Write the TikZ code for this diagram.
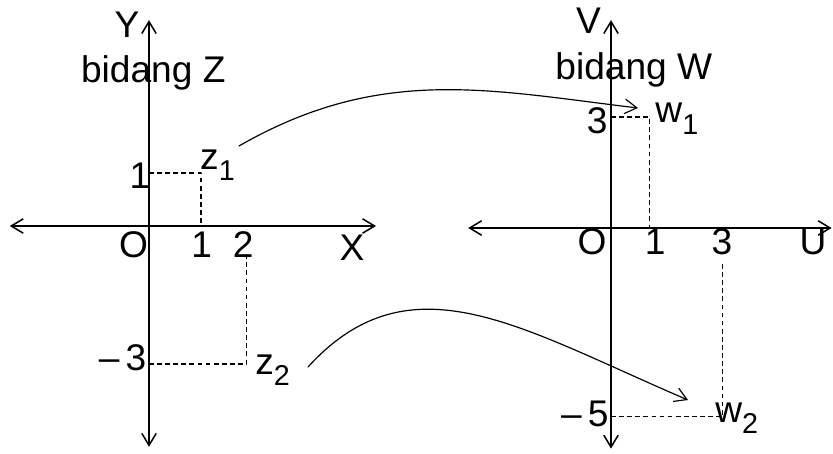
\documentclass[tikz,border=0pt]{standalone}
\usepackage{fontspec}
\setmainfont{Liberation Sans}
\usetikzlibrary{arrows.meta}
\newcommand{\subidx}[1]{\raisebox{-0.3em}{\fontsize{17}{20}\selectfont #1}}
\begin{document}
\begin{tikzpicture}[line join=round, line cap=round, >={Straight Barb[length=2.5mm,width=3mm]}]
\tikzset{every node/.style={inner sep=0pt, anchor=base, font=\fontsize{22}{26}\selectfont},
  axis/.style={<->, line width=0.9pt},
  guide/.style={dash pattern=on 2.8pt off 2pt, line width=0.7pt, line cap=butt},
  maparrow/.style={->, line width=0.7pt}}
\useasboundingbox (0,0) rectangle (17.354,9.4375);
% bidang Z
\begin{scope}[shift={(3.104,4.729)}]
\def\xmin{-2.9}\def\xmax{4.73}\def\ymin{-4.6}\def\ymax{4.29}
\draw[axis] (\xmin,0)--(\xmax,0);
\draw[axis] (0,\ymin)--(0,\ymax);
\node (Y) at (-0.46,3.92) {Y};
\node (X) at (4.23,-0.71) {X};
\node (bZ) at (0.09,3.0) {bidang Z};
\node (O1) at (-0.32,-0.646) {O};
\node (x1) at (1.10,-0.646) {1};
\node (x2) at (1.96,-0.646) {2};
\node (y1) at (-0.19,0.79) {1};
\node (ym3) at (-0.55,-3.0) {\textendash\,3};
\draw[guide] (0,1.104)--(1.083,1.104)--(1.083,0);
\draw[guide] (0,-2.875)--(2.03,-2.875)--(2.03,-0.58);
\node[anchor=base west] (z1) at (1.06,1.17) {z\subidx{1}};
\node[anchor=base west] (z2) at (2.21,-3.10) {z\subidx{2}};
\end{scope}
% bidang W
\begin{scope}[shift={(12.729,4.6875)}, scale=0.779]
\def\xmin{-3.82}\def\xmax{5.9}\def\ymin{-5.9}\def\ymax{5.56}
\draw[axis] (\xmin,0)--(\xmax,0);
\draw[axis] (0,\ymin)--(0,\ymax);
\node (V) at (-0.60,5.21) {V};
\node (U) at (5.40,-0.72) {U};
\node (bW) at (0.61,3.96) {bidang W};
\node (O2) at (-0.51,-0.72) {O};
\node (u1) at (1.18,-0.72) {1};
\node (u3) at (2.97,-0.72) {3};
\node (v3) at (-0.37,2.54) {3};
\node (vm5) at (-0.70,-5.32) {\textendash\,5};
\draw[guide] (0,2.97)--(1.02,2.97)--(1.02,0);
\draw[guide] (0,-5.03)--(2.99,-5.03)--(2.99,-0.94);
\node[anchor=base west] (w1) at (1.18,2.81) {w\subidx{1}};
\node[anchor=base west] (w2) at (2.78,-5.19) {w\subidx{2}};
\end{scope}
% pemetaan
\coordinate (z1out) at (4.979,6.396);
\coordinate (w1in) at (13.292,7.1875);
\coordinate (z2out) at (6.417,1.792);
\coordinate (w2in) at (14.333,1.104);
\draw[maparrow] (z1out) .. controls (7.917,8.083) and (10.167,7.5625) .. (w1in);
\draw[maparrow] (z2out) .. controls (8.542,4.125) and (10.833,2.604) .. (w2in);
\end{tikzpicture}
\end{document}
